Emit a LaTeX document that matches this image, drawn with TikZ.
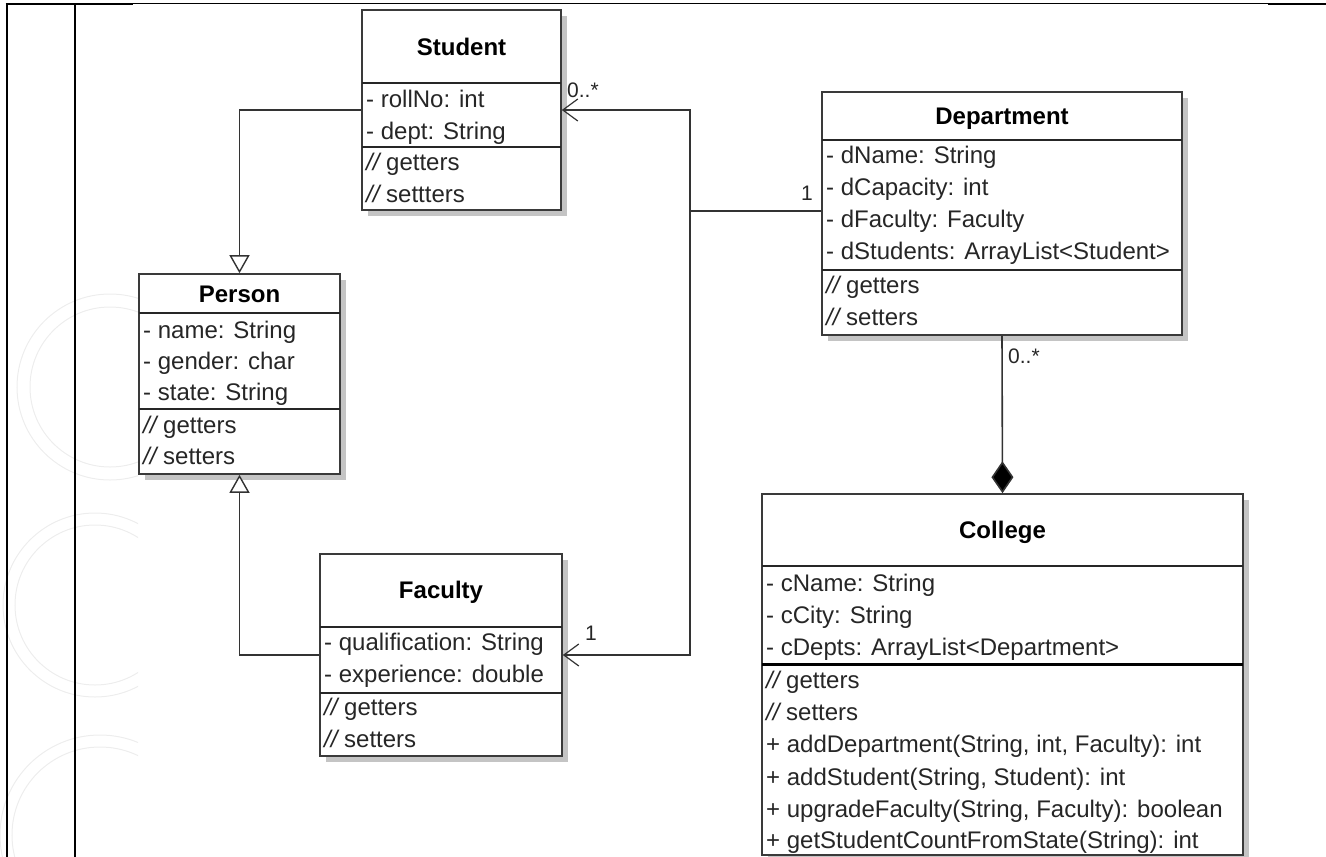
\documentclass[tikz,border=0pt]{standalone}
\usepackage{fontspec}
\setmainfont{Liberation Sans}
\usetikzlibrary{arrows.meta}
\definecolor{boxc}{HTML}{3A3A3A}
\definecolor{txtc}{HTML}{262626}
\definecolor{linec}{HTML}{333333}
\definecolor{shadowc}{HTML}{C4C4C4}
\definecolor{wmc}{HTML}{EDEDED}
\newcommand{\cmt}{{\itshape //}}
\begin{document}
\begin{tikzpicture}[x=1pt,y=-1pt,
  box/.style={draw=boxc, line width=1.6pt, fill=white, inner sep=0pt},
  shade/.style={fill=shadowc, draw=none},
  hdr/.style={font=\fontsize{24}{28}\selectfont\bfseries, text=black, inner sep=0pt, text height=17pt, text depth=0pt},
  row/.style={font=\fontsize{24}{28}\selectfont, text=txtc, anchor=base west, inner sep=0pt},
  mult/.style={font=\fontsize{21}{24}\selectfont, text=txtc, anchor=base west, inner sep=0pt},
  divider/.style={draw=black!85, line width=1.4pt},
  conn/.style={draw=linec, line width=1.6pt},
  gen/.style={conn, -{Triangle[open, length=18pt, width=20pt, fill=white, line width=1.4pt]}},
  assoc/.style={conn, -{Straight Barb[length=15pt, width=22pt, line width=1.2pt]}},
  comp/.style={conn, -{Diamond[length=32pt, width=22pt, fill=black]}},
  wm/.style={draw=wmc, line width=1pt},
  tbl/.style={draw=black, line width=2pt}
]
\useasboundingbox (0,0) rectangle (1326,857);

% faint watermark
\begin{scope}
  \clip (0,0) rectangle (138,857);
  \draw[wm] (110,387) circle (93);
  \draw[wm] (110,387) circle (80);
  \draw[wm] (95,605) circle (92);
  \draw[wm] (95,605) circle (80);
  \draw[wm] (100,835) circle (100);
  \draw[wm] (100,835) circle (88);
\end{scope}

% table rules
\draw[tbl] (6.5,3) -- (6.5,857);
\draw[tbl] (74.5,3) -- (74.5,857);
\draw[tbl] (5.5,4) -- (133,4);
\draw[draw=black, line width=1pt] (133,3.5) -- (1268,3.5);
\draw[tbl] (1268,4) -- (1326,4);

% shadows
\fill[shade] (368,16) rectangle (567,216);
\fill[shade] (828,98) rectangle (1188,341);
\fill[shade] (145,280) rectangle (346,480);
\fill[shade] (326,560) rectangle (568,762);
\fill[shade] (768,500) rectangle (1249,861);

% class boxes
\node[box, minimum width=199pt, minimum height=200pt] (student) at (461.5,110) {};
\node[box, minimum width=360pt, minimum height=243pt] (dept) at (1002,213.5) {};
\node[box, minimum width=201pt, minimum height=200pt] (person) at (239.5,374) {};
\node[box, minimum width=242pt, minimum height=202pt] (faculty) at (441,655) {};
\node[box, minimum width=481pt, minimum height=361pt] (college) at (1002.5,674.5) {};

% Student
\draw[divider] (362,83) -- (561,83);
\draw[divider] (362,147) -- (561,147);
\node[hdr] (studentT) at (461.5,46.5) {Student};
\node[row] (s1) at (366,107.5) {- rollNo: int};
\node[row] (s2) at (366,139) {- dept: String};
\node[row] (s3) at (366,170.5) {\cmt{} getters};
\node[row] (s4) at (366,202) {\cmt{} settters};

% Department
\draw[divider] (822,140) -- (1182,140);
\draw[divider] (822,270) -- (1182,270);
\node[hdr] (deptT) at (1002,115.5) {Department};
\node[row] (d1) at (826,163) {- dName: String};
\node[row] (d2) at (826,195) {- dCapacity: int};
\node[row] (d3) at (826,227) {- dFaculty: Faculty};
\node[row] (d4) at (826,259) {- dStudents: ArrayList<Student>};
\node[row] (d5) at (826,293) {\cmt{} getters};
\node[row] (d6) at (826,325) {\cmt{} setters};

% Person
\draw[divider] (139,313) -- (340,313);
\draw[divider] (139,409) -- (340,409);
\node[hdr] (personT) at (239.5,293.5) {Person};
\node[row] (p1) at (143,338) {- name: String};
\node[row] (p2) at (143,369) {- gender: char};
\node[row] (p3) at (143,400) {- state: String};
\node[row] (p4) at (143,433) {\cmt{} getters};
\node[row] (p5) at (143,464) {\cmt{} setters};

% Faculty
\draw[divider] (320,627) -- (562,627);
\draw[divider] (320,693) -- (562,693);
\node[hdr] (facultyT) at (441,590) {Faculty};
\node[row] (f1) at (324,650) {- qualification: String};
\node[row] (f2) at (324,682) {- experience: double};
\node[row] (f3) at (324,715) {\cmt{} getters};
\node[row] (f4) at (324,747) {\cmt{} setters};

% College
\draw[divider] (762,566) -- (1243,566);
\draw[draw=black, line width=3pt] (762,664) -- (1243,664);
\node[hdr] (collegeT) at (1002.5,530) {College};
\node[row] (c1) at (766,591) {- cName: String};
\node[row] (c2) at (766,623) {- cCity: String};
\node[row] (c3) at (766,655) {- cDepts: ArrayList<Department>};
\node[row] (c4) at (766,688) {\cmt{} getters};
\node[row] (c5) at (766,720) {\cmt{} setters};
\node[row] (c6) at (766,752) {+ addDepartment(String, int, Faculty): int};
\node[row] (c7) at (766,785) {+ addStudent(String, Student): int};
\node[row] (c8) at (766,817) {+ upgradeFaculty(String, Faculty): boolean};
\node[row] (c9) at (766,848) {+ getStudentCountFromState(String): int};

% connectors
\draw[gen] (student.west) -| (person.north);
\draw[gen] (faculty.west) -| (person.south);
\coordinate (junction) at (690,211);
\draw[conn] ([yshift=2.5pt]dept.west) -- (junction);
\draw[assoc] (junction) |- (student.east);
\draw[assoc] (junction) |- (faculty.east);
\draw[comp] (dept.south) -- (college.north);

% multiplicities
\node[mult] (m1) at (567,97) {0..*};
\node[mult] (m2) at (585,640) {1};
\node[mult] (m3) at (801,200) {1};
\node[mult] (m4) at (1008,363) {0..*};
\end{tikzpicture}
\end{document}
